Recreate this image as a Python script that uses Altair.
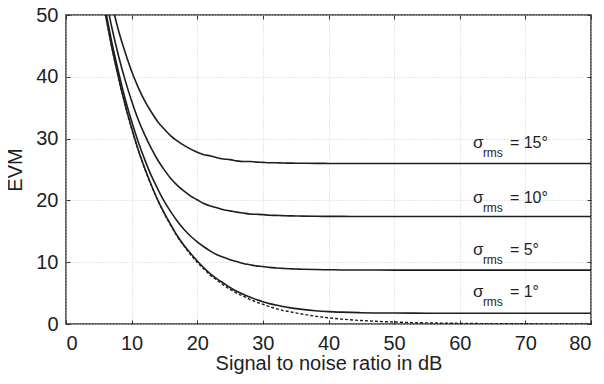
import altair as alt
import pandas as pd

# Signal to noise ratio (dB) sample points
snr = [6, 7, 8, 9, 10, 11, 12, 13, 14, 15,
       16, 17, 18, 19, 20, 21, 22, 23, 24, 25,
       26, 27, 28, 29, 30, 31, 32, 33, 34, 35,
       36, 38, 40, 42, 45, 50, 55, 60, 70, 80]

# EVM (%) values
evm_15 = [56.4, 51.7, 47.5, 44.0, 40.9, 38.3, 36.1, 34.3, 32.7, 31.5,
          30.4, 29.6, 28.9, 28.3, 27.8, 27.4, 27.2, 26.9, 26.7, 26.6,
          26.4, 26.3, 26.3, 26.2, 26.15, 26.1, 26.1, 26.05, 26.03, 26.02,
          26.01, 25.99, 25.98, 25.97, 25.96, 25.96, 25.96, 25.96, 25.96, 25.96]
evm_10 = [53.1, 47.9, 43.4, 39.5, 36.1, 33.1, 30.6, 28.4, 26.5, 24.9,
          23.5, 22.4, 21.5, 20.7, 20.1, 19.5, 19.1, 18.8, 18.5, 18.3,
          18.1, 17.95, 17.8, 17.75, 17.7, 17.6, 17.57, 17.53, 17.5, 17.48,
          17.46, 17.43, 17.42, 17.41, 17.40, 17.39, 17.39, 17.39, 17.39, 17.39]
evm_5 = [50.9, 45.5, 40.8, 36.5, 32.8, 29.5, 26.6, 24.0, 21.8, 19.8,
         18.1, 16.6, 15.3, 14.2, 13.3, 12.5, 11.8, 11.2, 10.8, 10.4,
         10.1, 9.8, 9.6, 9.4, 9.3, 9.16, 9.07, 9.0, 8.94, 8.9,
         8.86, 8.81, 8.78, 8.75, 8.74, 8.72, 8.72, 8.72, 8.72, 8.72]
evm_1 = [50.2, 44.7, 39.9, 35.5, 31.7, 28.2, 25.2, 22.5, 20.0, 17.9,
         16.0, 14.2, 12.7, 11.4, 10.2, 9.1, 8.1, 7.3, 6.6, 5.9,
         5.3, 4.8, 4.35, 3.95, 3.6, 3.3, 3.06, 2.84, 2.65, 2.49,
         2.36, 2.15, 2.01, 1.92, 1.83, 1.77, 1.75, 1.75, 1.75, 1.75]
evm_0 = [50.1, 44.7, 39.8, 35.5, 31.6, 28.2, 25.1, 22.4, 20.0, 17.8,
         15.9, 14.1, 12.6, 11.2, 10.0, 8.9, 7.9, 7.1, 6.3, 5.6,
         5.0, 4.5, 4.0, 3.55, 3.2, 2.8, 2.5, 2.2, 2.0, 1.8,
         1.6, 1.26, 1.0, 0.79, 0.56, 0.32, 0.18, 0.1, 0.03, 0.01]

x_ticks = [0, 10, 20, 30, 40, 50, 60, 70, 80]
y_ticks = [0, 10, 20, 30, 40, 50]

label_x = [62, 62, 62, 62]
label_y = [28.5, 19.6, 11.1, 4.4]
label_text = ["= 15°", "= 10°", "= 5°", "= 1°"]

FONT = "Liberation Sans"
INK = "#1e1e1e"

rows = []
for name, vals in [("15", evm_15), ("10", evm_10), ("5", evm_5), ("1", evm_1)]:
    for s, v in zip(snr, vals):
        rows.append({"snr": s, "evm": v, "series": name})
solid = pd.DataFrame(rows)
dotted = pd.DataFrame({"snr": snr, "evm": evm_0})
labels = pd.DataFrame({"x": label_x, "y": label_y, "text": label_text})

xscale = alt.Scale(domain=[0, 80], nice=False)
yscale = alt.Scale(domain=[0, 50], nice=False)

x_axis = alt.Axis(values=x_ticks, orient="bottom", title="Signal to noise ratio in dB",
                  grid=True, gridColor="#cfcfcf", gridDash=[1, 2], gridWidth=1,
                  domain=False, ticks=True, tickSize=4, tickColor="#333",
                  offset=-4, labelPadding=9, labelFontSize=20, labelFont=FONT,
                  labelColor=INK, titleFont=FONT, titleFontSize=20,
                  titleFontWeight="normal", titleColor=INK, titlePadding=0)
y_axis = alt.Axis(values=y_ticks, orient="left", title="EVM",
                  grid=True, gridColor="#cfcfcf", gridDash=[1, 2], gridWidth=1,
                  domain=False, ticks=True, tickSize=4, tickColor="#333",
                  offset=-4, labelPadding=8, labelFontSize=20, labelFont=FONT,
                  labelColor=INK, titleFont=FONT, titleFontSize=20,
                  titleFontWeight="normal", titleColor=INK, titlePadding=10)

lines = alt.Chart(solid).mark_line(color=INK, strokeWidth=1.6, clip=True,
                                   interpolate="monotone").encode(
    x=alt.X("snr:Q", scale=xscale, axis=x_axis),
    y=alt.Y("evm:Q", scale=yscale, axis=y_axis),
    detail="series:N",
)

x_axis2 = alt.Axis(values=x_ticks, orient="top", title=None, labels=False, grid=False,
                   domain=False, ticks=True, tickSize=4, tickColor="#333", offset=-4)
y_axis2 = alt.Axis(values=y_ticks, orient="right", title=None, labels=False, grid=False,
                   domain=False, ticks=True, tickSize=4, tickColor="#333", offset=-4)

dots = alt.Chart(dotted).mark_line(color=INK, strokeWidth=1.4, strokeDash=[3, 2],
                                   clip=True, interpolate="monotone").encode(
    x=alt.X("snr:Q", scale=xscale, axis=x_axis2),
    y=alt.Y("evm:Q", scale=yscale, axis=y_axis2),
)

base_txt = alt.Chart(labels).encode(
    x=alt.X("x:Q", scale=xscale, axis=None),
    y=alt.Y("y:Q", scale=yscale, axis=None),
)
sigma = base_txt.mark_text(text="σ", font=FONT, fontSize=17, color=INK,
                           align="left", baseline="alphabetic")
rms = base_txt.mark_text(text="rms", font=FONT, fontSize=12, color=INK,
                         align="left", baseline="alphabetic", dx=10, dy=9)
rest = base_txt.mark_text(font=FONT, fontSize=16, color=INK, align="left",
                          baseline="alphabetic", dx=37).encode(text="text:N")

chart = alt.layer(lines, dots, sigma, rms, rest).resolve_axis(
    x="independent", y="independent"
).properties(
    width=525, height=309,
    autosize=alt.AutoSizeParams(type="none"),
    padding={"left": 58, "top": 7, "right": 4, "bottom": 50},
).configure_view(stroke="#333", strokeWidth=1.5)

chart.save("out.html", embed_options={"renderer": "svg", "actions": False})
